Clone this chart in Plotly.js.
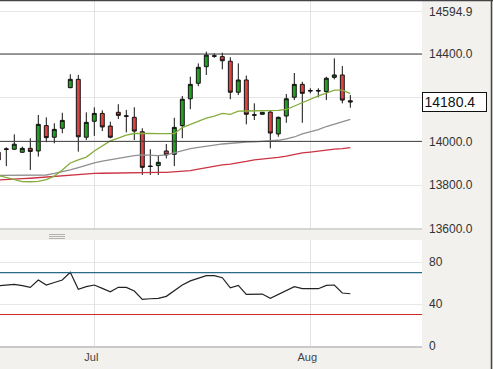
<!DOCTYPE html>
<html>
<head>
<meta charset="utf-8">
<script src="https://cdn.plot.ly/plotly-3.0.1.min.js"></script>
<style>html,body{margin:0;padding:0;background:#f2f1ee;}#chart{width:493px;height:369px;}</style>
</head>
<body>
<div id="chart"></div>
<script>
// Session index (trading sessions, Jul starts at 12, Aug at 39)
const sessions = [0,1,2,3,4,5,6,7,8,9,10,11,12,13,14,15,16,17,18,19,20,21,22,23,24,25,26,27,28,29,30,31,32,33,34,35,36,37,38,39,40,41,42,43,44];
const openP  = [13950,13966,13964,13950,13968,13956,14072,14019,14060,14246,14284,14019,14092,14128,14070,14133,14117,14110,14044,13887,13889,13956,13941,14072,14195,14266,14342,14392,14388,14367,14225,14281,14122,14124,14134,14034,14116,14202,14261,14233,14233,14228,14293,14304,14186];
const highP  = [13958,13973,14032,13976,14014,14121,14110,14083,14131,14307,14304,14133,14156,14142,14090,14170,14144,14156,14060,13964,13933,13988,14108,14208,14296,14357,14411,14403,14406,14385,14357,14301,14174,14135,14142,14114,14217,14313,14273,14243,14243,14296,14380,14345,14212];
const lowP   = [13908,13887,13960,13947,13869,13930,13996,13991,14037,14243,13953,14006,14025,14047,14014,14102,14041,14006,13846,13846,13846,13922,13887,14014,14147,14253,14304,14383,14330,14193,14212,14078,14098,14122,13968,14021,14085,14189,14085,14220,14202,14189,14284,14174,14154];
const closeP = [13915,13963,13987,13968,13954,14078,14017,14055,14096,14284,14021,14087,14128,14066,14019,14119,14115,14047,13881,13885,13904,13938,14064,14193,14261,14339,14395,14390,14369,14225,14281,14124,14120,14133,14038,14110,14195,14261,14220,14231,14231,14289,14304,14189,14180.4];
const maFast = [13844,13834,13823,13816,13815,13817,13825,13841,13869,13901,13915,13928,13956,13979,14002,14015,14029,14036,14038,14037,14035,14034,14036,14063,14077,14093,14106,14116,14128,14124,14138,14139,14139,14140,14141,14142,14146,14162,14176,14192,14208,14221,14235,14235,14219];
const maMid  = [13844,13844,13845,13845,13846,13846,13846,13853,13860,13869,13880,13892,13901,13910,13917,13924,13930,13935,13938,13936,13935,13938,13948,13958,13967,13972,13979,13983,13988,13992,13995,13997,13998,14000,14003,14005,14011,14020,14034,14044,14054,14068,14079,14091,14101];
const maSlow = [13823,13824,13826,13829,13831,13834,13837,13840,13844,13846,13848,13851,13853,13854,13855,13856,13857,13857,13858,13858,13858,13858,13860,13862,13866,13873,13880,13887,13892,13896,13901,13908,13915,13918,13922,13927,13932,13940,13947,13951,13956,13959,13964,13967,13971];
const rsi    = [57.4,58.2,58.8,57.5,55.9,62.9,58.1,60.5,62.9,70.2,54.0,56.5,58.1,54.9,51.7,55.9,55.9,52.4,44.5,45.0,45.4,47.3,52.4,58.1,62.0,64.5,67.0,67.0,65.1,55.5,57.8,49.2,49.3,49.5,45.4,49.0,52.4,56.5,54.6,54.6,54.6,57.8,58.1,50.5,49.8];
const monthTicks = [12, 39];
const monthLabels = ['Jul', 'Aug'];
const priceTicks = [13600, 13800, 14000, 14200, 14400, 14594.9];
const priceTickText = ['13600.0', '13800.0', '14000.0', '', '14400.0', '14594.9'];
const priceLevels = [14000, 14400];
const rsiTicks = [0, 40, 80];
const rsiTickText = ['0', '40', '80'];
const rsiUpper = 70, rsiLower = 30;
const lastClose = 14180.4;

const FONT = 'Liberation Sans, Arial, sans-serif';
const mainBottom = 117/346;   // main panel domain start
const rsiTop = 106/346;       // rsi panel domain end

const traces = [
  {type:'scatter', mode:'lines', x:sessions, y:maSlow, line:{color:'#cc3344', width:1.3}, hoverinfo:'skip', xaxis:'x', yaxis:'y'},
  {type:'scatter', mode:'lines', x:sessions, y:maMid, line:{color:'#8f8f8f', width:1.3}, hoverinfo:'skip', xaxis:'x', yaxis:'y'},
  {type:'scatter', mode:'lines', x:sessions, y:maFast, line:{color:'#86ad3e', width:1.3}, hoverinfo:'skip', xaxis:'x', yaxis:'y'},
  {type:'candlestick', x:sessions, open:openP, high:highP, low:lowP, close:closeP,
   increasing:{line:{color:'#111', width:1}, fillcolor:'#23a023'},
   decreasing:{line:{color:'#111', width:1}, fillcolor:'#dc4444'},
   whiskerwidth:0, hoverinfo:'skip', xaxis:'x', yaxis:'y'},
  {type:'scatter', mode:'lines', x:sessions, y:rsi, line:{color:'#222', width:1.2}, hoverinfo:'skip', xaxis:'x', yaxis:'y2'}
];

const shapes = [];
priceLevels.forEach(v => shapes.push({type:'line', xref:'paper', x0:0, x1:1, yref:'y', y0:v, y1:v, line:{color:'#3a3a3a', width:1}}));
shapes.push({type:'line', xref:'paper', x0:0, x1:1, yref:'y2', y0:rsiUpper, y1:rsiUpper, line:{color:'#2b6a86', width:1.2}});
shapes.push({type:'line', xref:'paper', x0:0, x1:1, yref:'y2', y0:rsiLower, y1:rsiLower, line:{color:'#cc2a2a', width:1.2}});
// main panel bottom border
shapes.push({type:'line', xref:'paper', x0:0, x1:1, yref:'paper', y0:mainBottom, y1:mainBottom, line:{color:'#c9c9c9', width:1.5}});
// splitter handle
[234.5, 236.5, 238.5].forEach(py => shapes.push({type:'line', xref:'paper', x0:49/422, x1:65/422, yref:'paper', y0:(346-py)/346, y1:(346-py)/346, line:{color:'#a3a3a3', width:0.8}}));
// outer frame (top & right)
shapes.push({type:'line', xref:'paper', x0:0, x1:493/422, yref:'paper', y0:345.5/346, y1:345.5/346, line:{color:'#444', width:1.5}});
shapes.push({type:'line', xref:'paper', x0:491.5/422, x1:491.5/422, yref:'paper', y0:1, y1:-23/346, line:{color:'#444', width:1.5}});

const layout = {
  width:493, height:369,
  margin:{l:0, r:71, t:0, b:23, pad:0},
  paper_bgcolor:'#f2f1ee', plot_bgcolor:'#ffffff',
  showlegend:false, hovermode:false,
  font:{family:FONT, color:'#333'},
  xaxis:{range:[0.2125, 52.96], tickvals:monthTicks, ticktext:monthLabels, showgrid:true, gridcolor:'#e2e2e2',
         zeroline:false, anchor:'y2', ticks:'', tickfont:{size:11, color:'#444', family:FONT},
         rangeslider:{visible:false}, showline:true, linecolor:'#c9c9c9', linewidth:1.5, ticklabelshift:-3, fixedrange:true},
  yaxis:{domain:[mainBottom, 1], side:'right', range:[13598.7, 14647.3], tickvals:priceTicks, ticktext:priceTickText,
         showgrid:true, gridcolor:'#e6e6e6', zeroline:false, ticks:'', ticklabelstandoff:6,
         tickfont:{size:12, color:'#333', family:FONT}, anchor:'x', fixedrange:true},
  yaxis2:{domain:[0, rsiTop], side:'right', range:[0, 101], tickvals:rsiTicks, ticktext:rsiTickText,
          showgrid:true, gridcolor:'#e6e6e6', zeroline:false, ticks:'', ticklabelstandoff:6,
          tickfont:{size:12, color:'#333', family:FONT}, anchor:'x', fixedrange:true},
  shapes:shapes,
  annotations:[{xref:'paper', x:1, xanchor:'left', yref:'y', y:lastClose, yanchor:'middle',
                text:lastClose.toFixed(1), showarrow:false, align:'left', width:60, height:15,
                bgcolor:'#ffffff', bordercolor:'#111', borderwidth:1, borderpad:1.5,
                font:{size:14, color:'#111', family:FONT}}]
};

Plotly.newPlot('chart', traces, layout, {staticPlot:true, displayModeBar:false});
</script>
</body>
</html>
